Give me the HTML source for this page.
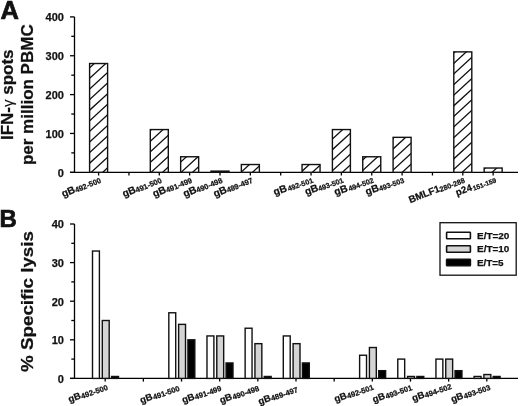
<!DOCTYPE html>
<html><head><meta charset="utf-8"><style>
html,body{margin:0;padding:0;background:#fff;}
body{width:520px;height:406px;overflow:hidden;}
svg{display:block;filter:grayscale(1);}
text{font-family:"Liberation Sans", sans-serif;font-weight:bold;fill:#111;stroke:#111;stroke-width:0.25px;}
.ax{stroke:#000;stroke-width:1.3;fill:none;}
.bar{stroke:#111;stroke-width:1.4;}
.hl{stroke:#111;stroke-width:1.3;fill:none;}
.leg{stroke:#111;stroke-width:1.3;}
.sw{stroke:#111;stroke-width:1.6;}
.tl{font-size:11px;}
.lg{font-size:9.8px;}
.xl .m{font-size:10.6px;}
.xl .s{font-size:7.8px;}
.pl{stroke-width:0.7px;}
.yt{font-size:17px;}
.gam{font-weight:normal;font-size:15px;stroke-width:0.15px;}
</style></head><body>
<svg width="520" height="406" viewBox="0 0 520 406">

<line x1="74.5" y1="16.9" x2="74.5" y2="172.3" class="ax"/>
<line x1="70.0" y1="172.3" x2="518.0" y2="172.3" class="ax"/>
<line x1="70.00" y1="172.30" x2="74.5" y2="172.30" class="ax"/>
<text x="63.9" y="176.60" class="tl" text-anchor="end">0</text>
<line x1="71.30" y1="152.88" x2="74.5" y2="152.88" class="ax"/>
<line x1="70.00" y1="133.45" x2="74.5" y2="133.45" class="ax"/>
<text x="63.9" y="137.75" class="tl" text-anchor="end">100</text>
<line x1="71.30" y1="114.03" x2="74.5" y2="114.03" class="ax"/>
<line x1="70.00" y1="94.60" x2="74.5" y2="94.60" class="ax"/>
<text x="63.9" y="98.90" class="tl" text-anchor="end">200</text>
<line x1="71.30" y1="75.18" x2="74.5" y2="75.18" class="ax"/>
<line x1="70.00" y1="55.75" x2="74.5" y2="55.75" class="ax"/>
<text x="63.9" y="60.05" class="tl" text-anchor="end">300</text>
<line x1="71.30" y1="36.33" x2="74.5" y2="36.33" class="ax"/>
<line x1="70.00" y1="16.90" x2="74.5" y2="16.90" class="ax"/>
<text x="63.9" y="21.20" class="tl" text-anchor="end">400</text>
<line x1="98.60" y1="172.3" x2="98.60" y2="175.5" class="ax"/>
<clipPath id="c0"><rect x="89.60" y="63.52" width="18.0" height="108.78"/></clipPath>
<rect x="89.60" y="63.52" width="18.0" height="108.78" fill="#fff"/>
<path d="M87.60 48.44L109.60 28.20M87.60 59.04L109.60 38.80M87.60 69.64L109.60 49.40M87.60 80.24L109.60 60.00M87.60 90.84L109.60 70.60M87.60 101.44L109.60 81.20M87.60 112.04L109.60 91.80M87.60 122.64L109.60 102.40M87.60 133.24L109.60 113.00M87.60 143.84L109.60 123.60M87.60 154.44L109.60 134.20M87.60 165.04L109.60 144.80M87.60 175.64L109.60 155.40M87.60 186.24L109.60 166.00M87.60 196.84L109.60 176.60M87.60 207.44L109.60 187.20" clip-path="url(#c0)" class="hl"/>
<rect x="89.60" y="63.52" width="18.0" height="108.78" fill="none" class="bar"/>
<line x1="128.95" y1="172.3" x2="128.95" y2="175.5" class="ax"/>
<line x1="159.30" y1="172.3" x2="159.30" y2="175.5" class="ax"/>
<clipPath id="c2"><rect x="150.30" y="129.56" width="18.0" height="42.74"/></clipPath>
<rect x="150.30" y="129.56" width="18.0" height="42.74" fill="#fff"/>
<path d="M148.30 111.30L170.30 91.06M148.30 121.90L170.30 101.66M148.30 132.50L170.30 112.26M148.30 143.10L170.30 122.86M148.30 153.70L170.30 133.46M148.30 164.30L170.30 144.06M148.30 174.90L170.30 154.66M148.30 185.50L170.30 165.26M148.30 196.10L170.30 175.86M148.30 206.70L170.30 186.46" clip-path="url(#c2)" class="hl"/>
<rect x="150.30" y="129.56" width="18.0" height="42.74" fill="none" class="bar"/>
<line x1="189.65" y1="172.3" x2="189.65" y2="175.5" class="ax"/>
<clipPath id="c3"><rect x="180.65" y="156.76" width="18.0" height="15.54"/></clipPath>
<rect x="180.65" y="156.76" width="18.0" height="15.54" fill="#fff"/>
<path d="M178.65 142.73L200.65 122.49M178.65 153.33L200.65 133.09M178.65 163.93L200.65 143.69M178.65 174.53L200.65 154.29M178.65 185.13L200.65 164.89M178.65 195.73L200.65 175.49M178.65 206.33L200.65 186.09" clip-path="url(#c3)" class="hl"/>
<rect x="180.65" y="156.76" width="18.0" height="15.54" fill="none" class="bar"/>
<line x1="220.00" y1="172.3" x2="220.00" y2="175.5" class="ax"/>
<clipPath id="c4"><rect x="211.00" y="171.13" width="18.0" height="1.17"/></clipPath>
<rect x="211.00" y="171.13" width="18.0" height="1.17" fill="#fff"/>
<path d="M209.00 152.96L231.00 132.72M209.00 163.56L231.00 143.32M209.00 174.16L231.00 153.92M209.00 184.76L231.00 164.52M209.00 195.36L231.00 175.12M209.00 205.96L231.00 185.72" clip-path="url(#c4)" class="hl"/>
<rect x="211.00" y="171.13" width="18.0" height="1.17" fill="none" class="bar"/>
<line x1="250.35" y1="172.3" x2="250.35" y2="175.5" class="ax"/>
<clipPath id="c5"><rect x="241.35" y="164.53" width="18.0" height="7.77"/></clipPath>
<rect x="241.35" y="164.53" width="18.0" height="7.77" fill="#fff"/>
<path d="M239.35 152.59L261.35 132.35M239.35 163.19L261.35 142.95M239.35 173.79L261.35 153.55M239.35 184.39L261.35 164.15M239.35 194.99L261.35 174.75M239.35 205.59L261.35 185.35" clip-path="url(#c5)" class="hl"/>
<rect x="241.35" y="164.53" width="18.0" height="7.77" fill="none" class="bar"/>
<line x1="280.70" y1="172.3" x2="280.70" y2="175.5" class="ax"/>
<line x1="311.05" y1="172.3" x2="311.05" y2="175.5" class="ax"/>
<clipPath id="c7"><rect x="302.05" y="164.53" width="18.0" height="7.77"/></clipPath>
<rect x="302.05" y="164.53" width="18.0" height="7.77" fill="#fff"/>
<path d="M300.05 151.85L322.05 131.61M300.05 162.45L322.05 142.21M300.05 173.05L322.05 152.81M300.05 183.65L322.05 163.41M300.05 194.25L322.05 174.01M300.05 204.85L322.05 184.61" clip-path="url(#c7)" class="hl"/>
<rect x="302.05" y="164.53" width="18.0" height="7.77" fill="none" class="bar"/>
<line x1="341.40" y1="172.3" x2="341.40" y2="175.5" class="ax"/>
<clipPath id="c8"><rect x="332.40" y="129.56" width="18.0" height="42.74"/></clipPath>
<rect x="332.40" y="129.56" width="18.0" height="42.74" fill="#fff"/>
<path d="M330.40 119.68L352.40 99.44M330.40 130.28L352.40 110.04M330.40 140.88L352.40 120.64M330.40 151.48L352.40 131.24M330.40 162.08L352.40 141.84M330.40 172.68L352.40 152.44M330.40 183.28L352.40 163.04M330.40 193.88L352.40 173.64M330.40 204.48L352.40 184.24" clip-path="url(#c8)" class="hl"/>
<rect x="332.40" y="129.56" width="18.0" height="42.74" fill="none" class="bar"/>
<line x1="371.75" y1="172.3" x2="371.75" y2="175.5" class="ax"/>
<clipPath id="c9"><rect x="362.75" y="156.76" width="18.0" height="15.54"/></clipPath>
<rect x="362.75" y="156.76" width="18.0" height="15.54" fill="#fff"/>
<path d="M360.75 140.51L382.75 120.27M360.75 151.11L382.75 130.87M360.75 161.71L382.75 141.47M360.75 172.31L382.75 152.07M360.75 182.91L382.75 162.67M360.75 193.51L382.75 173.27M360.75 204.11L382.75 183.87" clip-path="url(#c9)" class="hl"/>
<rect x="362.75" y="156.76" width="18.0" height="15.54" fill="none" class="bar"/>
<line x1="402.10" y1="172.3" x2="402.10" y2="175.5" class="ax"/>
<clipPath id="c10"><rect x="393.10" y="137.34" width="18.0" height="34.97"/></clipPath>
<rect x="393.10" y="137.34" width="18.0" height="34.97" fill="#fff"/>
<path d="M391.10 118.94L413.10 98.70M391.10 129.54L413.10 109.30M391.10 140.14L413.10 119.90M391.10 150.74L413.10 130.50M391.10 161.34L413.10 141.10M391.10 171.94L413.10 151.70M391.10 182.54L413.10 162.30M391.10 193.14L413.10 172.90M391.10 203.74L413.10 183.50" clip-path="url(#c10)" class="hl"/>
<rect x="393.10" y="137.34" width="18.0" height="34.97" fill="none" class="bar"/>
<line x1="432.45" y1="172.3" x2="432.45" y2="175.5" class="ax"/>
<line x1="462.80" y1="172.3" x2="462.80" y2="175.5" class="ax"/>
<clipPath id="c12"><rect x="453.80" y="51.87" width="18.0" height="120.44"/></clipPath>
<rect x="453.80" y="51.87" width="18.0" height="120.44" fill="#fff"/>
<path d="M451.80 33.40L473.80 13.16M451.80 44.00L473.80 23.76M451.80 54.60L473.80 34.36M451.80 65.20L473.80 44.96M451.80 75.80L473.80 55.56M451.80 86.40L473.80 66.16M451.80 97.00L473.80 76.76M451.80 107.60L473.80 87.36M451.80 118.20L473.80 97.96M451.80 128.80L473.80 108.56M451.80 139.40L473.80 119.16M451.80 150.00L473.80 129.76M451.80 160.60L473.80 140.36M451.80 171.20L473.80 150.96M451.80 181.80L473.80 161.56M451.80 192.40L473.80 172.16M451.80 203.00L473.80 182.76" clip-path="url(#c12)" class="hl"/>
<rect x="453.80" y="51.87" width="18.0" height="120.44" fill="none" class="bar"/>
<line x1="493.15" y1="172.3" x2="493.15" y2="175.5" class="ax"/>
<clipPath id="c13"><rect x="484.15" y="168.03" width="18.0" height="4.27"/></clipPath>
<rect x="484.15" y="168.03" width="18.0" height="4.27" fill="#fff"/>
<path d="M482.15 149.63L504.15 129.39M482.15 160.23L504.15 139.99M482.15 170.83L504.15 150.59M482.15 181.43L504.15 161.19M482.15 192.03L504.15 171.79M482.15 202.63L504.15 182.39" clip-path="url(#c13)" class="hl"/>
<rect x="484.15" y="168.03" width="18.0" height="4.27" fill="none" class="bar"/>
<line x1="74.5" y1="224.0" x2="74.5" y2="378.4" class="ax"/>
<line x1="70.0" y1="378.4" x2="518.0" y2="378.4" class="ax"/>
<line x1="70.00" y1="378.40" x2="74.5" y2="378.40" class="ax"/>
<text x="63.9" y="382.70" class="tl" text-anchor="end">0</text>
<line x1="71.30" y1="359.10" x2="74.5" y2="359.10" class="ax"/>
<line x1="70.00" y1="339.80" x2="74.5" y2="339.80" class="ax"/>
<text x="63.9" y="344.10" class="tl" text-anchor="end">10</text>
<line x1="71.30" y1="320.50" x2="74.5" y2="320.50" class="ax"/>
<line x1="70.00" y1="301.20" x2="74.5" y2="301.20" class="ax"/>
<text x="63.9" y="305.50" class="tl" text-anchor="end">20</text>
<line x1="71.30" y1="281.90" x2="74.5" y2="281.90" class="ax"/>
<line x1="70.00" y1="262.60" x2="74.5" y2="262.60" class="ax"/>
<text x="63.9" y="266.90" class="tl" text-anchor="end">30</text>
<line x1="71.30" y1="243.30" x2="74.5" y2="243.30" class="ax"/>
<line x1="70.00" y1="224.00" x2="74.5" y2="224.00" class="ax"/>
<text x="63.9" y="228.30" class="tl" text-anchor="end">40</text>
<line x1="105.20" y1="378.4" x2="105.20" y2="381.59999999999997" class="ax"/>
<rect x="92.50" y="251.02" width="6.9" height="127.38" fill="#fff" class="bar"/>
<rect x="102.30" y="320.50" width="6.9" height="57.90" fill="#d4d4d4" class="bar"/>
<rect x="111.60" y="376.47" width="6.9" height="1.93" fill="#000" class="bar"/>
<line x1="143.36" y1="378.4" x2="143.36" y2="381.59999999999997" class="ax"/>
<line x1="181.52" y1="378.4" x2="181.52" y2="381.59999999999997" class="ax"/>
<rect x="168.82" y="312.78" width="6.9" height="65.62" fill="#fff" class="bar"/>
<rect x="178.62" y="324.36" width="6.9" height="54.04" fill="#d4d4d4" class="bar"/>
<rect x="187.92" y="339.80" width="6.9" height="38.60" fill="#000" class="bar"/>
<line x1="219.68" y1="378.4" x2="219.68" y2="381.59999999999997" class="ax"/>
<rect x="206.98" y="335.94" width="6.9" height="42.46" fill="#fff" class="bar"/>
<rect x="216.78" y="335.94" width="6.9" height="42.46" fill="#d4d4d4" class="bar"/>
<rect x="226.08" y="362.96" width="6.9" height="15.44" fill="#000" class="bar"/>
<line x1="257.84" y1="378.4" x2="257.84" y2="381.59999999999997" class="ax"/>
<rect x="245.14" y="328.22" width="6.9" height="50.18" fill="#fff" class="bar"/>
<rect x="254.94" y="343.66" width="6.9" height="34.74" fill="#d4d4d4" class="bar"/>
<rect x="264.24" y="376.47" width="6.9" height="1.93" fill="#000" class="bar"/>
<line x1="296.00" y1="378.4" x2="296.00" y2="381.59999999999997" class="ax"/>
<rect x="283.30" y="335.94" width="6.9" height="42.46" fill="#fff" class="bar"/>
<rect x="293.10" y="343.66" width="6.9" height="34.74" fill="#d4d4d4" class="bar"/>
<rect x="302.40" y="362.96" width="6.9" height="15.44" fill="#000" class="bar"/>
<line x1="334.16" y1="378.4" x2="334.16" y2="381.59999999999997" class="ax"/>
<line x1="372.32" y1="378.4" x2="372.32" y2="381.59999999999997" class="ax"/>
<rect x="359.62" y="355.24" width="6.9" height="23.16" fill="#fff" class="bar"/>
<rect x="369.42" y="347.52" width="6.9" height="30.88" fill="#d4d4d4" class="bar"/>
<rect x="378.72" y="370.68" width="6.9" height="7.72" fill="#000" class="bar"/>
<line x1="410.48" y1="378.4" x2="410.48" y2="381.59999999999997" class="ax"/>
<rect x="397.78" y="359.10" width="6.9" height="19.30" fill="#fff" class="bar"/>
<rect x="407.58" y="376.47" width="6.9" height="1.93" fill="#d4d4d4" class="bar"/>
<rect x="416.88" y="376.47" width="6.9" height="1.93" fill="#000" class="bar"/>
<line x1="448.64" y1="378.4" x2="448.64" y2="381.59999999999997" class="ax"/>
<rect x="435.94" y="359.10" width="6.9" height="19.30" fill="#fff" class="bar"/>
<rect x="445.74" y="359.10" width="6.9" height="19.30" fill="#d4d4d4" class="bar"/>
<rect x="455.04" y="370.68" width="6.9" height="7.72" fill="#000" class="bar"/>
<line x1="486.80" y1="378.4" x2="486.80" y2="381.59999999999997" class="ax"/>
<rect x="474.10" y="376.47" width="6.9" height="1.93" fill="#fff" class="bar"/>
<rect x="483.90" y="374.54" width="6.9" height="3.86" fill="#d4d4d4" class="bar"/>
<rect x="493.20" y="376.47" width="6.9" height="1.93" fill="#000" class="bar"/>
<rect x="440" y="222.7" width="76.2" height="52.5" fill="#fff" class="leg"/>
<rect x="446.6" y="232.20" width="23.8" height="6.6" rx="0.6" fill="#fff" class="sw"/>
<text x="477" y="238.80" class="lg" textLength="32.4" lengthAdjust="spacingAndGlyphs">E/T=20</text>
<rect x="446.6" y="245.70" width="23.8" height="6.6" rx="0.6" fill="#d4d4d4" class="sw"/>
<text x="477" y="252.30" class="lg" textLength="32.4" lengthAdjust="spacingAndGlyphs">E/T=10</text>
<rect x="446.6" y="259.20" width="23.8" height="6.6" rx="0.6" fill="#000" class="sw"/>
<text x="477" y="265.80" class="lg" textLength="26.6" lengthAdjust="spacingAndGlyphs">E/T=5</text>
<g transform="translate(101.60,182.30) rotate(-22.5)"><text x="0" y="0" text-anchor="end" class="xl"><tspan font-size="10.2" dy="-0.8">gB</tspan><tspan font-size="7.5" dx="0" dy="0.8">492-500</tspan></text></g>
<g transform="translate(162.30,182.30) rotate(-22.5)"><text x="0" y="0" text-anchor="end" class="xl"><tspan font-size="10.2" dy="-0.8">gB</tspan><tspan font-size="7.5" dx="0" dy="0.8">491-500</tspan></text></g>
<g transform="translate(192.65,182.30) rotate(-22.5)"><text x="0" y="0" text-anchor="end" class="xl"><tspan font-size="10.2" dy="-0.8">gB</tspan><tspan font-size="7.5" dx="0" dy="0.8">491-499</tspan></text></g>
<g transform="translate(223.00,182.30) rotate(-22.5)"><text x="0" y="0" text-anchor="end" class="xl"><tspan font-size="10.2" dy="-0.8">gB</tspan><tspan font-size="7.5" dx="0" dy="0.8">490-498</tspan></text></g>
<g transform="translate(253.35,182.30) rotate(-22.5)"><text x="0" y="0" text-anchor="end" class="xl"><tspan font-size="10.2" dy="-0.8">gB</tspan><tspan font-size="7.5" dx="0" dy="0.8">489-497</tspan></text></g>
<g transform="translate(313.65,182.30) rotate(-20)"><text x="0" y="0" text-anchor="end" class="xl"><tspan font-size="10.2" dy="-0.8">gB</tspan><tspan font-size="7.2" dx="1.0" dy="0.8">492-501</tspan></text></g>
<g transform="translate(344.00,182.30) rotate(-20)"><text x="0" y="0" text-anchor="end" class="xl"><tspan font-size="10.2" dy="-0.8">gB</tspan><tspan font-size="7.2" dx="0" dy="0.8">493-501</tspan></text></g>
<g transform="translate(374.35,182.30) rotate(-20)"><text x="0" y="0" text-anchor="end" class="xl"><tspan font-size="10.2" dy="-0.8">gB</tspan><tspan font-size="7.2" dx="1.0" dy="0.8">494-502</tspan></text></g>
<g transform="translate(404.70,182.30) rotate(-20)"><text x="0" y="0" text-anchor="end" class="xl"><tspan font-size="10.2" dy="-0.8">gB</tspan><tspan font-size="7.2" dx="0" dy="0.8">493-503</tspan></text></g>
<g transform="translate(465.40,182.30) rotate(-21.5)"><text x="0" y="0" text-anchor="end" class="xl"><tspan font-size="9.8" dy="-0.8">BMLF1</tspan><tspan font-size="7.2" dx="0" dy="0.8">280-288</tspan></text></g>
<g transform="translate(496.75,182.30) rotate(-20)"><text x="0" y="0" text-anchor="end" class="xl"><tspan font-size="9.6" dy="-0.8">p24</tspan><tspan font-size="6.7" dx="0.8" dy="0.8">151-159</tspan></text></g>
<g transform="translate(108.40,389.60) rotate(-19.5)"><text x="0" y="0" text-anchor="end" class="xl"><tspan font-size="9.5" dy="-0.8">gB</tspan><tspan font-size="7.6" dx="0.4" dy="0.8">492-500</tspan></text></g>
<g transform="translate(180.22,390.50) rotate(-19.5)"><text x="0" y="0" text-anchor="end" class="xl"><tspan font-size="9.5" dy="-0.8">gB</tspan><tspan font-size="7.6" dx="0.4" dy="0.8">491-500</tspan></text></g>
<g transform="translate(222.08,390.40) rotate(-19.5)"><text x="0" y="0" text-anchor="end" class="xl"><tspan font-size="9.5" dy="-0.8">gB</tspan><tspan font-size="7.6" dx="0.4" dy="0.8">491-499</tspan></text></g>
<g transform="translate(259.74,390.50) rotate(-19.5)"><text x="0" y="0" text-anchor="end" class="xl"><tspan font-size="9.5" dy="-0.8">gB</tspan><tspan font-size="7.6" dx="0.4" dy="0.8">490-498</tspan></text></g>
<g transform="translate(298.40,391.80) rotate(-19.5)"><text x="0" y="0" text-anchor="end" class="xl"><tspan font-size="9.5" dy="-0.8">gB</tspan><tspan font-size="7.6" dx="0.4" dy="0.8">489-497</tspan></text></g>
<g transform="translate(374.32,389.40) rotate(-19.5)"><text x="0" y="0" text-anchor="end" class="xl"><tspan font-size="9.5" dy="-0.8">gB</tspan><tspan font-size="7.6" dx="0.4" dy="0.8">492-501</tspan></text></g>
<g transform="translate(412.68,389.80) rotate(-19.5)"><text x="0" y="0" text-anchor="end" class="xl"><tspan font-size="9.5" dy="-0.8">gB</tspan><tspan font-size="7.6" dx="0.4" dy="0.8">493-501</tspan></text></g>
<g transform="translate(452.14,388.60) rotate(-19.5)"><text x="0" y="0" text-anchor="end" class="xl"><tspan font-size="9.5" dy="-0.8">gB</tspan><tspan font-size="7.6" dx="0.4" dy="0.8">494-502</tspan></text></g>
<g transform="translate(491.00,389.60) rotate(-19.5)"><text x="0" y="0" text-anchor="end" class="xl"><tspan font-size="9.5" dy="-0.8">gB</tspan><tspan font-size="7.6" dx="0.4" dy="0.8">493-503</tspan></text></g>
<text x="0.6" y="18.6" class="pl" font-size="25.5">A</text>
<text x="-0.4" y="226.7" class="pl" font-size="24">B</text>
<text transform="translate(13.0,94.8) rotate(-90)" text-anchor="middle" class="yt">IFN-<tspan class="gam">&#947;</tspan> spots</text>
<text transform="translate(32.9,94.7) rotate(-90)" text-anchor="middle" class="yt">per million PBMC</text>
<text transform="translate(33.0,301.5) rotate(-90)" text-anchor="middle" class="yt" textLength="141" lengthAdjust="spacingAndGlyphs">% Specific lysis</text>
</svg>
</body></html>
